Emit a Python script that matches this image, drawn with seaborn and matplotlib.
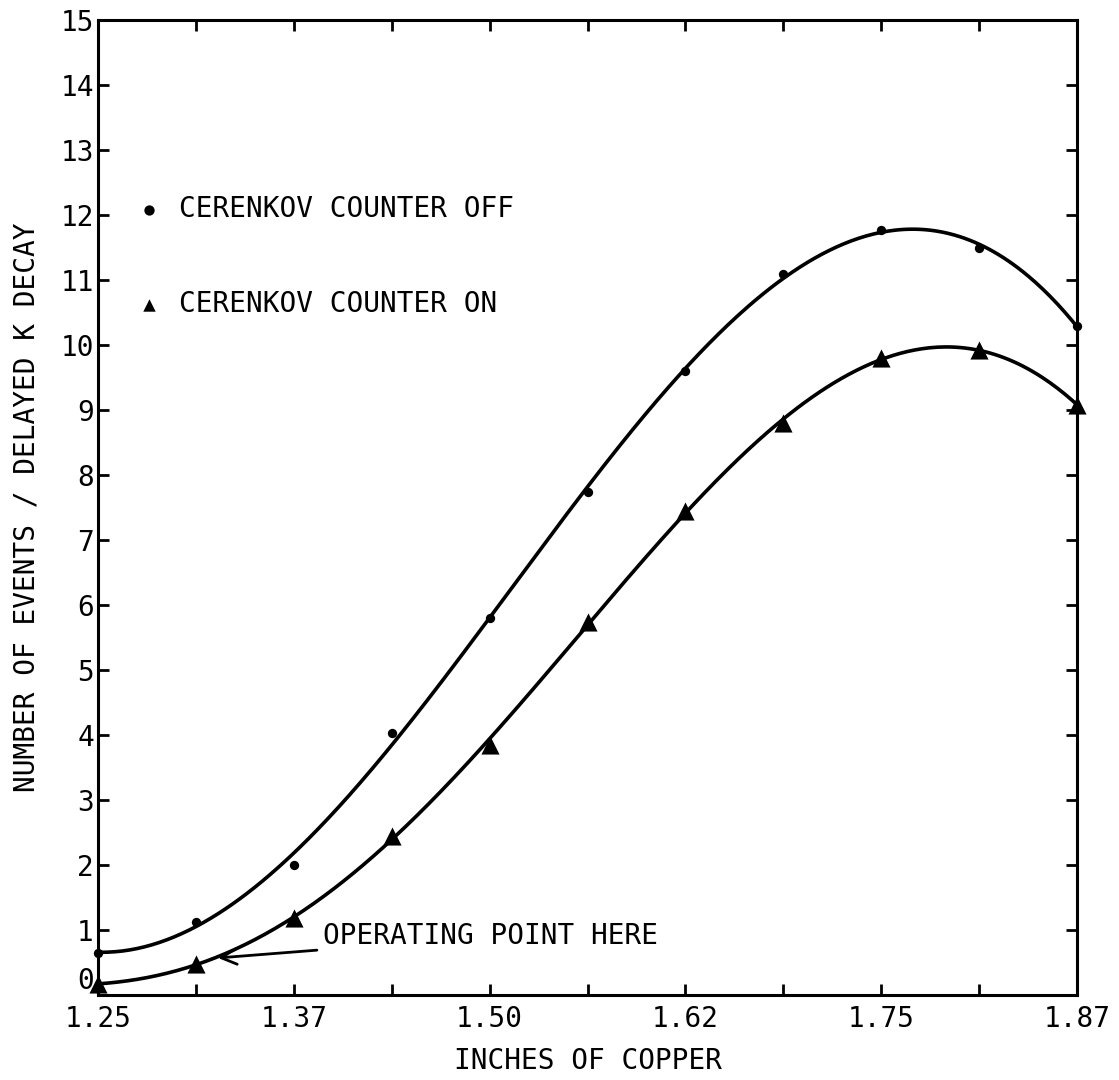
import numpy as np
import pandas as pd
import matplotlib
matplotlib.use("Agg")
import matplotlib.pyplot as plt
import seaborn as sns
from matplotlib.ticker import FixedLocator, MultipleLocator

# ---- data ----
copper_in = [1.25, 1.3125, 1.375, 1.4375, 1.5, 1.5625, 1.625, 1.6875, 1.75, 1.8125, 1.875]
counter_off = [0.65, 1.12, 2.0, 4.03, 5.8, 7.74, 9.6, 11.09, 11.77, 11.49, 10.3]
counter_on = [0.17, 0.47, 1.18, 2.45, 3.85, 5.74, 7.45, 8.8, 9.8, 9.92, 9.08]
x_tick_values = [1.25, 1.375, 1.5, 1.625, 1.75, 1.875]
x_tick_labels = ["1.25", "1.37", "1.50", "1.62", "1.75", "1.87"]
y_tick_values = list(range(0, 16))
label_off = "CERENKOV COUNTER OFF"
label_on = "CERENKOV COUNTER ON"
annot_text = "OPERATING POINT HERE"
xlabel = "INCHES OF COPPER"
ylabel = "NUMBER OF EVENTS / DELAYED K DECAY"

sns.set_theme(style="white")
plt.rcParams["font.family"] = ["DejaVu Sans Mono", "DejaVu Sans"]
FS = 20

df = pd.DataFrame({"x": copper_in, "off": counter_off, "on": counter_on})

# smooth fitted curves (polynomial fit of each series)
xf = np.linspace(min(copper_in), max(copper_in), 400)
fit_off = np.polyval(np.polyfit(copper_in, counter_off, 5), xf)
fit_on = np.polyval(np.polyfit(copper_in, counter_on, 5), xf)

fig = plt.figure(figsize=(11.19, 10.8), dpi=100)
ax = fig.add_axes([98 / 1119, 1 - 995 / 1080, (1077 - 98) / 1119, (995 - 20) / 1080])

sns.lineplot(x=xf, y=fit_off, ax=ax, color="black", lw=2.6, legend=False)
sns.lineplot(x=xf, y=fit_on, ax=ax, color="black", lw=2.6, legend=False)
sns.scatterplot(data=df, x="x", y="off", ax=ax, marker="o", s=45, color="black",
                edgecolor="black", linewidth=0, label=label_off, clip_on=False, zorder=5)
sns.scatterplot(data=df, x="x", y="on", ax=ax, marker="^", s=170, color="black",
                edgecolor="black", linewidth=0, label=label_on, clip_on=False, zorder=5)

ax.set_xlim(1.25, 1.875)
ax.set_ylim(0, 15)
ax.xaxis.set_major_locator(FixedLocator(x_tick_values))
ax.set_xticklabels(x_tick_labels)
ax.xaxis.set_minor_locator(MultipleLocator(0.0625))
ax.yaxis.set_major_locator(FixedLocator(y_tick_values))
ax.set_yticklabels([str(v) for v in y_tick_values])
ax.get_yticklabels()[0].set_va("bottom")

ax.tick_params(axis="both", which="both", direction="in", top=True, right=True,
               bottom=True, left=True, length=8, width=2, color="black",
               labelsize=FS, labelcolor="black")
ax.tick_params(axis="x", which="major", pad=7)
ax.tick_params(axis="y", which="major", pad=3)

for sp in ax.spines.values():
    sp.set_visible(True)
    sp.set_color("black")
    sp.set_linewidth(2.2)

ax.set_xlabel(xlabel, fontsize=FS, color="black", labelpad=10)
ax.set_ylabel(ylabel, fontsize=FS, color="black", labelpad=14)

leg = ax.legend(loc="upper left", bbox_to_anchor=(0.012, 0.846), frameon=False,
                fontsize=FS, labelspacing=2.4, handletextpad=0.6, handlelength=1.0)
for t in leg.get_texts():
    t.set_color("black")
handles = leg.legend_handles
handles[0].set_sizes([55])
handles[1].set_sizes([80])

ax.annotate(annot_text, xy=(1.3266, 0.57), xytext=(1.3936, 0.9),
            fontsize=FS, color="black", va="center", ha="left",
            arrowprops=dict(arrowstyle="->", lw=2, color="black", mutation_scale=28,
                            shrinkA=2, shrinkB=0))

fig.savefig("out.png", dpi=100, facecolor="white")
